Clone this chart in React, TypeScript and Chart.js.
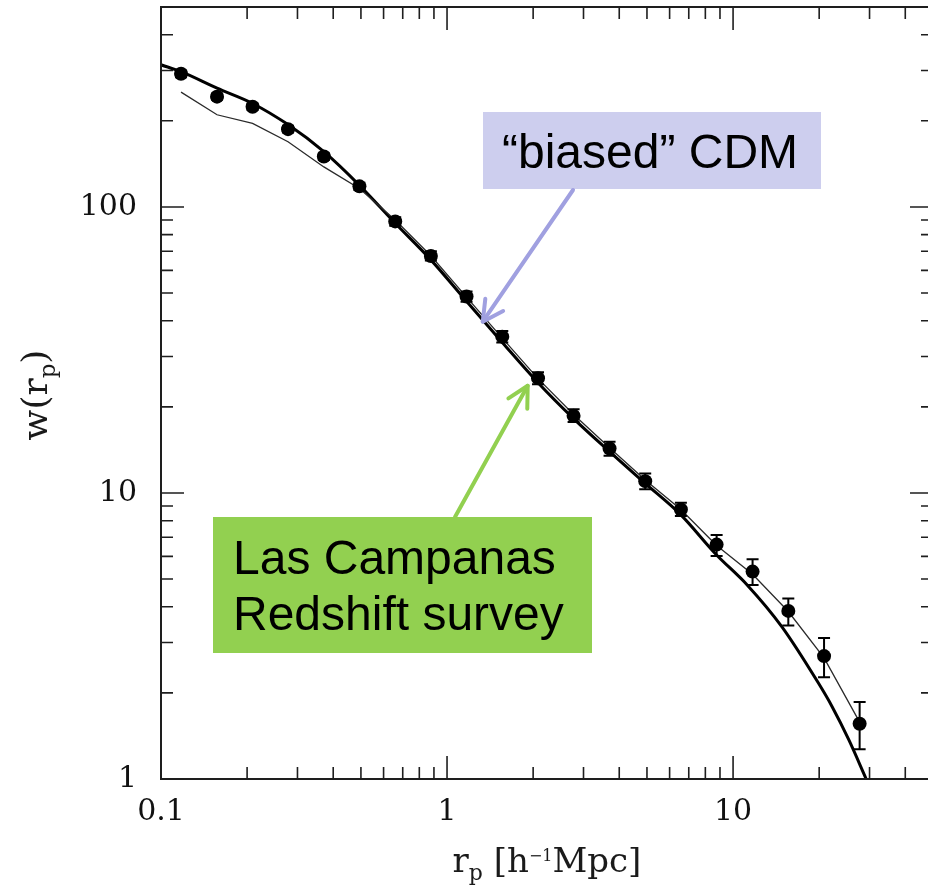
import { useEffect, useRef } from "react";
import { Chart, registerables } from "chart.js";

Chart.register(...registerables);

// Projected correlation function w(r_p), Las Campanas Redshift Survey
const rp = [0.1175, 0.157, 0.209, 0.278, 0.371, 0.494, 0.659, 0.878, 1.17, 1.56, 2.08, 2.77, 3.7, 4.93, 6.57, 8.76, 11.7, 15.6, 20.8, 27.7];
const wObs = [292, 243, 224, 187, 150, 118, 89, 67.4, 48.6, 35.2, 25.2, 18.6, 14.3, 11.0, 8.75, 6.6, 5.31, 3.87, 2.69, 1.56];
const wLow = [284, 237, 218, 182, 146, 114.5, 86, 65, 46.6, 33.6, 24.0, 17.7, 13.5, 10.3, 8.31, 6.02, 4.77, 3.44, 2.27, 1.27];
const wHigh = [300, 249, 230, 192, 154, 121.5, 92, 70, 50.6, 36.8, 26.4, 19.6, 15.1, 11.7, 9.25, 7.13, 5.86, 4.28, 3.11, 1.86];

// "biased" CDM model (heavy curve)
const cdmR = [0.1, 0.1175, 0.157, 0.209, 0.278, 0.371, 0.494, 0.659, 0.878, 1.17, 1.56, 2.08, 2.77, 3.7, 4.93, 6.57, 8.69, 11.2, 14.8, 19.9, 22.2, 25.4, 29.2];
const cdmW = [314, 297, 260, 230, 194, 156, 119, 87.7, 65.3, 46.8, 33.6, 24.3, 18.2, 13.95, 10.8, 8.38, 6.12, 4.77, 3.41, 2.16, 1.79, 1.37, 1.0];

// second model (light curve)
const altR = [0.1175, 0.157, 0.209, 0.278, 0.371, 0.494, 0.659, 0.878, 1.17, 1.56, 2.08, 2.77, 3.7, 4.93, 6.57, 8.76, 11.7, 15.6, 20.8, 27.7];
const altW = [252, 210, 196, 169, 138, 116, 90, 67.5, 48.4, 34.8, 25.1, 18.8, 14.4, 11.1, 8.75, 6.55, 5.2, 3.85, 2.65, 1.58];

// axis ranges and labelled ticks
const xRange = [0.1, 50];
const yRange = [1, 500];
const xLabelled = [0.1, 1, 10];
const yLabelled = [1, 10, 100];

// annotation arrow tips, in data units
const cdmArrowTip = { x: 1.333, y: 39.7 };
const lcrsArrowTip = { x: 1.914, y: 23.7 };

const SERIF = '"DejaVu Serif"';
const SANS = '"Liberation Sans", Arial, sans-serif';

function logTicks(min: number, max: number) {
  const out: { v: number; major: boolean }[] = [];
  for (let d = Math.pow(10, Math.floor(Math.log10(min))); d <= max; d *= 10) {
    for (let k = 1; k <= 9; k++) {
      const v = k * d;
      if (v >= min * 0.999 && v <= max * 1.001) out.push({ v, major: k === 1 });
    }
  }
  return out;
}

function drawArrow(ctx: CanvasRenderingContext2D, x0: number, y0: number, x1: number, y1: number, color: string) {
  ctx.save();
  ctx.strokeStyle = color;
  ctx.lineWidth = 4;
  ctx.lineCap = "round";
  ctx.lineJoin = "round";
  ctx.beginPath();
  ctx.moveTo(x0, y0);
  ctx.lineTo(x1, y1);
  ctx.stroke();
  const ang = Math.atan2(y0 - y1, x0 - x1);
  const len = 23;
  const spread = (28 * Math.PI) / 180;
  ctx.beginPath();
  ctx.moveTo(x1 + len * Math.cos(ang - spread), y1 + len * Math.sin(ang - spread));
  ctx.lineTo(x1, y1);
  ctx.lineTo(x1 + len * Math.cos(ang + spread), y1 + len * Math.sin(ang + spread));
  ctx.stroke();
  ctx.restore();
}

type Piece = { t: string; f: string; dy: number };

function drawPieces(ctx: CanvasRenderingContext2D, pieces: Piece[], cx: number, baseline: number) {
  let total = 0;
  for (const p of pieces) {
    ctx.font = p.f;
    total += ctx.measureText(p.t).width;
  }
  let x = cx - total / 2;
  ctx.textAlign = "left";
  ctx.textBaseline = "alphabetic";
  for (const p of pieces) {
    ctx.font = p.f;
    ctx.fillText(p.t, x, baseline + p.dy);
    x += ctx.measureText(p.t).width;
  }
}

const decorations = {
  id: "decorations",
  afterDatasetsDraw(chart: any) {
    const { ctx, scales } = chart;
    const x = scales.x;
    const y = scales.y;
    ctx.save();
    ctx.strokeStyle = "#000";
    ctx.lineWidth = 2;
    for (let i = 0; i < rp.length; i++) {
      const px = x.getPixelForValue(rp[i]);
      const lo = y.getPixelForValue(wLow[i]);
      const hi = y.getPixelForValue(wHigh[i]);
      ctx.beginPath();
      ctx.moveTo(px, lo);
      ctx.lineTo(px, hi);
      ctx.moveTo(px - 6, lo);
      ctx.lineTo(px + 6, lo);
      ctx.moveTo(px - 6, hi);
      ctx.lineTo(px + 6, hi);
      ctx.stroke();
    }
    ctx.restore();
  },
  afterDraw(chart: any) {
    const { ctx, chartArea: a, scales } = chart;
    const x = scales.x;
    const y = scales.y;
    ctx.save();

    // frame
    ctx.strokeStyle = "#1e1e1e";
    ctx.lineWidth = 2;
    ctx.strokeRect(a.left, a.top, a.right - a.left, a.bottom - a.top);

    // inward ticks on all four sides
    ctx.lineWidth = 1.6;
    ctx.beginPath();
    for (const t of logTicks(xRange[0], xRange[1])) {
      const px = x.getPixelForValue(t.v);
      const L = t.major ? 23 : 12;
      ctx.moveTo(px, a.bottom);
      ctx.lineTo(px, a.bottom - L);
      ctx.moveTo(px, a.top);
      ctx.lineTo(px, a.top + L);
    }
    for (const t of logTicks(yRange[0], yRange[1])) {
      const py = y.getPixelForValue(t.v);
      const L = t.major ? 23 : 12;
      ctx.moveTo(a.left, py);
      ctx.lineTo(a.left + L, py);
      ctx.moveTo(a.right, py);
      ctx.lineTo(a.right - L, py);
    }
    ctx.stroke();

    // axis titles
    ctx.fillStyle = "#1a1a1a";
    drawPieces(
      ctx,
      [
        { t: "r", f: `34px ${SERIF}`, dy: 0 },
        { t: "p", f: `22px ${SERIF}`, dy: 8 },
        { t: " [h", f: `34px ${SERIF}`, dy: 0 },
        { t: "−1", f: `16px ${SERIF}`, dy: -11 },
        { t: "Mpc]", f: `34px ${SERIF}`, dy: 0 },
      ],
      (a.left + a.right) / 2,
      872
    );
    ctx.save();
    ctx.translate(47, (a.top + a.bottom) / 2 + 2);
    ctx.rotate(-Math.PI / 2);
    drawPieces(
      ctx,
      [
        { t: "w(r", f: `36px ${SERIF}`, dy: 0 },
        { t: "p", f: `23px ${SERIF}`, dy: 8 },
        { t: ")", f: `36px ${SERIF}`, dy: 0 },
      ],
      0,
      0
    );
    ctx.restore();

    // "biased" CDM callout
    ctx.fillStyle = "#CDCEEE";
    ctx.fillRect(483, 112, 338, 77);
    ctx.fillStyle = "#000";
    ctx.font = `48px ${SANS}`;
    ctx.textAlign = "center";
    ctx.textBaseline = "alphabetic";
    ctx.fillText("“biased” CDM", 650, 168);
    drawArrow(ctx, 573, 190, x.getPixelForValue(cdmArrowTip.x), y.getPixelForValue(cdmArrowTip.y), "#A0A0E0");

    // survey callout
    ctx.fillStyle = "#92D050";
    ctx.fillRect(213, 517, 379, 136);
    ctx.fillStyle = "#000";
    ctx.textAlign = "left";
    ctx.fillText("Las Campanas", 233, 574);
    ctx.fillText("Redshift survey", 233, 630);
    drawArrow(ctx, 455, 517, x.getPixelForValue(lcrsArrowTip.x), y.getPixelForValue(lcrsArrowTip.y), "#92D050");

    ctx.restore();
  },
};

export default function App() {
  const canvasRef = useRef<HTMLCanvasElement | null>(null);

  useEffect(() => {
    const canvas = canvasRef.current;
    if (!canvas) return;
    const chart = new Chart(canvas, {
      type: "scatter",
      data: {
        datasets: [
          {
            label: "Las Campanas Redshift survey",
            data: rp.map((v, i) => ({ x: v, y: wObs[i] })),
            pointRadius: 7,
            pointBackgroundColor: "#000",
            pointBorderColor: "#000",
            pointBorderWidth: 0,
            showLine: false,
            order: 0,
          },
          {
            label: "model",
            data: altR.map((v, i) => ({ x: v, y: altW[i] })),
            showLine: true,
            borderColor: "#2a2a2a",
            borderWidth: 1.3,
            pointRadius: 0,
            tension: 0,
            order: 1,
          },
          {
            label: "biased CDM",
            data: cdmR.map((v, i) => ({ x: v, y: cdmW[i] })),
            showLine: true,
            borderColor: "#000",
            borderWidth: 3,
            pointRadius: 0,
            cubicInterpolationMode: "monotone",
            order: 2,
          },
        ],
      },
      options: {
        responsive: false,
        animation: false,
        devicePixelRatio: 1,
        events: [],
        layout: { padding: { top: 7, right: 6, left: 0, bottom: 0 } },
        plugins: { legend: { display: false }, tooltip: { enabled: false } },
        scales: {
          x: {
            type: "logarithmic",
            position: "bottom",
            min: xRange[0],
            max: xRange[1],
            grid: { display: false, drawTicks: false },
            border: { display: false },
            ticks: {
              font: { family: "DejaVu Serif", size: 30 },
              color: "#111",
              padding: 15,
              maxRotation: 0,
              autoSkip: false,
              callback: (v: any) => String(v),
            },
            afterBuildTicks: (s: any) => {
              s.ticks = xLabelled.map((v) => ({ value: v }));
            },
            afterFit: (s: any) => {
              s.height = 107;
              s.paddingLeft = 0;
              s.paddingRight = 0;
              s.paddingTop = 0;
              s.paddingBottom = 0;
            },
          },
          y: {
            type: "logarithmic",
            position: "left",
            min: yRange[0],
            max: yRange[1],
            grid: { display: false, drawTicks: false },
            border: { display: false },
            ticks: {
              font: { family: "DejaVu Serif", size: 30 },
              color: "#111",
              padding: 24,
              autoSkip: false,
              callback: (v: any) => String(v),
            },
            afterBuildTicks: (s: any) => {
              s.ticks = yLabelled.map((v) => ({ value: v }));
            },
            afterFit: (s: any) => {
              s.width = 161;
              s.paddingLeft = 0;
              s.paddingRight = 0;
              s.paddingTop = 0;
              s.paddingBottom = 0;
            },
          },
        },
      },
      plugins: [decorations],
    } as any);
    return () => chart.destroy();
  }, []);

  return (
    <div
      style={{
        position: "fixed",
        left: 0,
        top: 0,
        width: 928,
        height: 886,
        overflow: "hidden",
        background: "#fff",
      }}
    >
      <canvas ref={canvasRef} width={940} height={886} style={{ display: "block" }} />
    </div>
  );
}
